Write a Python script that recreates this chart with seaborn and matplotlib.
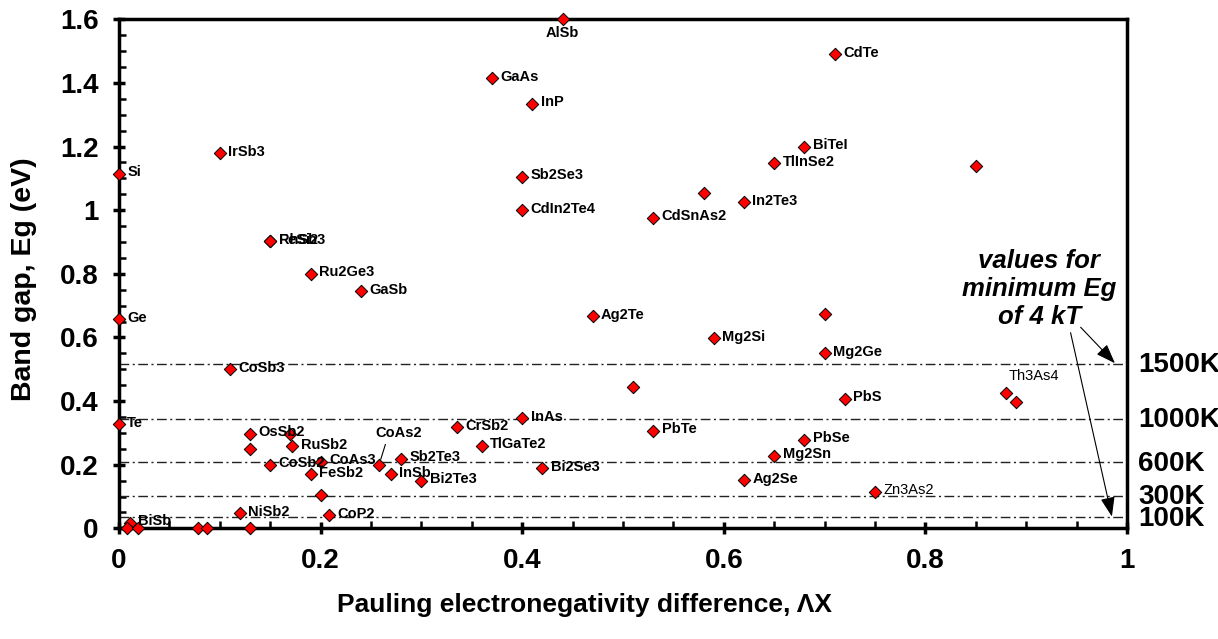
import matplotlib
matplotlib.use("Agg")
import matplotlib.pyplot as plt
import matplotlib.ticker as mticker
import matplotlib.transforms as mtransforms
import seaborn as sns
import pandas as pd

# ---------------- data ----------------
names = ["Si", "Ge", "Te", "BiSb", "IrSb3", "RhSb3", "FeSi2", "Ru2Ge3", "GaSb",
         "CoSb3", "OsSb2", "RuSb2", "CoSb2", "CoAs3", "FeSb2", "CoAs2", "Sb2Te3",
         "InSb", "Bi2Te3", "NiSb2", "CoP2", "CrSb2", "TlGaTe2", "InAs", "Bi2Se3",
         "AlSb", "GaAs", "InP", "Sb2Se3", "CdIn2Te4", "CdSnAs2", "Ag2Te", "Mg2Si",
         "PbTe", "In2Te3", "TlInSe2", "BiTeI", "CdTe", "Mg2Ge", "PbS", "PbSe",
         "Mg2Sn", "Ag2Se", "Zn3As2", "Th3As4",
         "", "", "", "", "", "", "", "", "", "", "", "", ""]
dx = [0.0, 0.0, 0.0, 0.011, 0.10, 0.15, 0.15, 0.19, 0.24,
      0.11, 0.13, 0.172, 0.15, 0.20, 0.19, 0.258, 0.28,
      0.27, 0.30, 0.12, 0.208, 0.335, 0.36, 0.40, 0.42,
      0.44, 0.37, 0.41, 0.40, 0.40, 0.53, 0.47, 0.59,
      0.53, 0.62, 0.65, 0.68, 0.71, 0.70, 0.72, 0.68,
      0.65, 0.62, 0.75, 0.88,
      0.58, 0.70, 0.51, 0.85, 0.13, 0.17, 0.20, 0.89, 0.008, 0.019, 0.078, 0.087, 0.13]
eg = [1.115, 0.657, 0.327, 0.018, 1.18, 0.903, 0.903, 0.80, 0.745,
      0.50, 0.297, 0.259, 0.20, 0.21, 0.17, 0.20, 0.219,
      0.17, 0.15, 0.047, 0.042, 0.317, 0.26, 0.347, 0.189,
      1.60, 1.415, 1.335, 1.105, 1.00, 0.976, 0.667, 0.597,
      0.307, 1.025, 1.148, 1.20, 1.49, 0.55, 0.407, 0.278,
      0.228, 0.152, 0.115, 0.425,
      1.055, 0.675, 0.445, 1.14, 0.248, 0.297, 0.105, 0.396, 0.0, 0.0, 0.0, 0.0, 0.0]

# minimum Eg of 4 kT lines
temp_labels = ["1500K", "1000K", "600K", "300K", "100K"]
kt_lines = [0.517, 0.345, 0.207, 0.103, 0.0345]

x_ticks = [0, 0.2, 0.4, 0.6, 0.8, 1.0]
y_ticks = [0, 0.2, 0.4, 0.6, 0.8, 1.0, 1.2, 1.4, 1.6]

df = pd.DataFrame({"name": names, "dx": dx, "eg": eg})

# ---------------- style ----------------
sns.set_theme(style="white")
plt.rcParams["font.family"] = ["Liberation Sans", "DejaVu Sans"]
plt.rcParams["font.weight"] = "bold"
for key in ["text.color", "axes.labelcolor", "xtick.color", "ytick.color"]:
    plt.rcParams[key] = "black"

fig = plt.figure(figsize=(12.18, 6.39), dpi=100)
ax = fig.add_axes([0.0977, 0.1732, 0.8276, 0.7966])

# reference lines
for yv in kt_lines:
    ax.axhline(yv, color="#222222", lw=1.0, ls=(0, (7, 2.5, 1.5, 2.5)), zorder=1)

sns.scatterplot(data=df, x="dx", y="eg", marker="D", color="red",
                edgecolor="black", linewidth=0.7, s=40, clip_on=False,
                zorder=5, ax=ax, legend=False)

# point labels
special = {
    "AlSb": dict(xytext=(0, -5), ha="center", va="top"),
    "Th3As4": dict(xytext=(2, 12), ha="left", va="center", weight="normal"),
    "Zn3As2": dict(xytext=(6, 1), ha="left", va="center", weight="normal"),
}
for n, xv, yv in zip(names, dx, eg):
    if not n:
        continue
    if n == "CoAs2":
        ax.annotate(n, xy=(xv, yv), xytext=(14, 23), textcoords="offset points",
                    ha="center", va="center", fontsize=10.5, fontweight="bold",
                    arrowprops=dict(arrowstyle="-", lw=0.8, color="black",
                                    shrinkA=1, shrinkB=4, relpos=(0.25, 0.0)))
        continue
    opts = dict(xytext=(6, 1), ha="left", va="center", weight="bold")
    opts.update(special.get(n, {}))
    ax.annotate(n, xy=(xv, yv), xytext=opts["xytext"], textcoords="offset points",
                ha=opts["ha"], va=opts["va"], fontsize=10.5, fontweight=opts["weight"],
                zorder=6)

# right-side temperature labels
trans = mtransforms.blended_transform_factory(ax.transAxes, ax.transData)
for lab, yv in zip(temp_labels, kt_lines):
    ax.text(1.011, yv - 0.005, lab, transform=trans, ha="left", va="center",
            fontsize=20, fontweight="bold", clip_on=False)

# annotation text and arrows
ax.text(0.913, 0.752, "values for\nminimum Eg\nof 4 kT", ha="center", va="center",
        fontsize=18.5, fontweight="bold", style="italic", linespacing=1.22)
ax.annotate("", xy=(0.988, 0.519), xytext=(0.954, 0.632),
            arrowprops=dict(arrowstyle="-|>,head_length=0.6,head_width=0.22",
                            mutation_scale=20, lw=0.8, color="black",
                            shrinkA=0, shrinkB=0))
ax.annotate("", xy=(0.985, 0.037), xytext=(0.944, 0.615),
            arrowprops=dict(arrowstyle="-|>,head_length=0.6,head_width=0.22",
                            mutation_scale=20, lw=0.8, color="black",
                            shrinkA=0, shrinkB=0))

# axes
ax.set_xlim(0, 1)
ax.set_ylim(0, 1.6)
ax.set_xticks(x_ticks)
ax.set_yticks(y_ticks)
fmt = mticker.FuncFormatter(lambda v, p: f"{v:g}")
ax.xaxis.set_major_formatter(fmt)
ax.yaxis.set_major_formatter(fmt)
ax.xaxis.set_minor_locator(mticker.MultipleLocator(0.05))
ax.yaxis.set_minor_locator(mticker.MultipleLocator(0.05))
ax.tick_params(which="major", direction="inout", length=9, width=2.5,
               color="black", labelcolor="black", labelsize=20, pad=10,
               bottom=True, left=True)
ax.tick_params(which="minor", direction="in", length=5, width=1.8,
               color="black", bottom=True, left=True)
for lab in ax.get_xticklabels() + ax.get_yticklabels():
    lab.set_fontweight("bold")
for sp in ax.spines.values():
    sp.set_linewidth(2.5)
    sp.set_color("black")

ax.set_xlabel("Pauling electronegativity difference, ΛX", fontsize=19,
              fontweight="bold")
ax.set_ylabel("Band gap, Eg (eV)", fontsize=20.5, fontweight="bold")
ax.xaxis.set_label_coords(0.462, -0.127)
ax.yaxis.set_label_coords(-0.081, 0.49)

fig.savefig("out.png", dpi=100)
